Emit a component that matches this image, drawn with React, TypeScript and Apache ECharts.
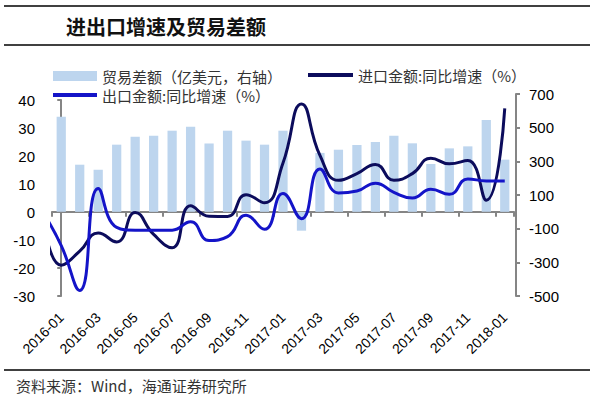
import React, { useEffect, useRef } from "react";
import * as echarts from "echarts";

const categories = [
  "2016-01", "2016-02", "2016-03", "2016-04", "2016-05", "2016-06",
  "2016-07", "2016-08", "2016-09", "2016-10", "2016-11", "2016-12",
  "2017-01", "2017-02", "2017-03", "2017-04", "2017-05", "2017-06",
  "2017-07", "2017-08", "2017-09", "2017-10", "2017-11", "2017-12",
  "2018-01",
];

// line data starts one month earlier (2015-12); that point is clipped by the plot edge
const lineMonths = ["2015-12", ...categories];

const tradeBalance = [
  565, 280, 250, 399, 446, 452, 482, 506, 406, 482, 423, 399,
  482, -112, 350, 369, 397, 415, 452, 407, 284, 377, 389, 545,
  310,
];

const importYoY = [
  -1,
  -19, -14, -7.5, -10.7, -0.2, -8, -12.8, 2.2, -1.5, -1.6, 6.2, 3.3,
  17.5, 38.6, 20.2, 11.3, 13.7, 17.0, 11.3, 13.7, 19.2, 17.2, 18.4, 4.2,
  37.0,
];

const exportYoY = [
  0,
  -12, -28, 8.4, -5.5, -6.5, -6.5, -6.5, -3.5, -10.2, -8.8, -1.2, -6.2,
  6.6, -2.4, 15.4, 6.8, 7.5, 10.3, 7.0, 5.0, 8.1, 6.3, 11.8, 11.1,
  11.1,
];

const leftAxis = { min: -30, max: 40, interval: 10 };
const rightAxis = { min: -500, max: 700, interval: 200 };

const NAME_BAR = "贸易差额（亿美元，右轴）";
const NAME_IMPORT = "进口金额:同比增速（%）";
const NAME_EXPORT = "出口金额:同比增速（%）";

const latin = "'Liberation Sans', Arial, sans-serif";
const cjk = "'Noto Sans CJK SC', sans-serif";
const axisGray = "#858585";
const navy = "#0c0c5c";
const blue = "#1414c8";
const barColor = "#bdd5ee";

export default function App() {
  const ref = useRef<HTMLDivElement>(null);

  useEffect(() => {
    if (!ref.current) return;
    const chart = echarts.init(ref.current, null, { renderer: "svg" });
    const legendText = { fontFamily: cjk, fontSize: 15, color: "#333", lineHeight: 16 };
    const axisLineStyle = { color: axisGray, width: 2 };

    chart.setOption({
      animation: false,
      backgroundColor: "#ffffff",
      title: {
        text: "进出口增速及贸易差额",
        left: 66,
        top: 16,
        padding: 0,
        textStyle: { fontFamily: cjk, fontSize: 20, fontWeight: "bold", color: "#111" },
      },
      graphic: [
        { type: "line", shape: { x1: 4, y1: 6, x2: 590, y2: 6 }, style: { stroke: "#000", lineWidth: 1.5 } },
        { type: "line", shape: { x1: 4, y1: 45, x2: 590, y2: 45 }, style: { stroke: "#000", lineWidth: 1.5 } },
        { type: "line", shape: { x1: 4, y1: 370, x2: 590, y2: 370 }, style: { stroke: "#000", lineWidth: 1.5 } },
        {
          type: "text",
          x: 16,
          y: 385,
          style: {
            text: "资料来源：Wind，海通证券研究所",
            fontFamily: cjk,
            fontSize: 15,
            fill: "#333",
            verticalAlign: "middle",
          },
        },
      ],
      legend: [
        {
          data: [NAME_BAR], left: 53, top: 68, icon: "rect",
          itemWidth: 44, itemHeight: 10, selectedMode: false, padding: 0,
          textStyle: legendText,
        },
        {
          data: [NAME_IMPORT], left: 308, top: 67, icon: "rect",
          itemWidth: 45, itemHeight: 4, selectedMode: false, padding: 0,
          textStyle: legendText,
        },
        {
          data: [NAME_EXPORT], left: 53, top: 87, icon: "rect",
          itemWidth: 44, itemHeight: 4, selectedMode: false, padding: 0,
          textStyle: legendText,
        },
      ],
      grid: [
        { left: 52, right: 76, top: 100, bottom: 100 },
        { left: 52, right: 76, top: 94, bottom: 100 },
      ],
      xAxis: [
        {
          type: "category",
          gridIndex: 0,
          data: categories,
          position: "bottom",
          axisLine: { show: false, onZero: false },
          axisTick: { show: false },
          splitLine: { show: false },
          axisLabel: {
            interval: 1, rotate: 45, margin: 19,
            fontSize: 14, color: "#000", fontFamily: latin,
          },
        },
        {
          type: "value",
          gridIndex: 0,
          position: "top",
          min: -0.5,
          max: lineMonths.length - 1.5,
          show: false,
        },
        {
          type: "category",
          gridIndex: 1,
          data: categories,
          axisLine: { show: true, onZero: true, lineStyle: axisLineStyle },
          axisTick: { show: true, interval: 1, length: 5, lineStyle: axisLineStyle },
          axisLabel: { show: false },
          splitLine: { show: false },
        },
      ],
      yAxis: [
        {
          type: "value",
          gridIndex: 0,
          position: "left",
          ...leftAxis,
          axisLine: { show: true, lineStyle: axisLineStyle },
          axisTick: { show: true, length: 4, lineStyle: axisLineStyle },
          splitLine: { show: false },
          axisLabel: { margin: 17, fontSize: 15, color: "#000", fontFamily: latin },
        },
        {
          type: "value",
          gridIndex: 1,
          position: "right",
          offset: 2,
          ...rightAxis,
          axisLine: { show: true, lineStyle: axisLineStyle },
          axisTick: { show: true, length: 4, lineStyle: axisLineStyle },
          splitLine: { show: false },
          axisLabel: { margin: 13, fontSize: 15, color: "#000", fontFamily: latin },
        },
      ],
      series: [
        {
          name: NAME_BAR,
          type: "bar",
          xAxisIndex: 2,
          yAxisIndex: 1,
          data: tradeBalance,
          barWidth: "50%",
          itemStyle: { color: barColor },
          z: 1,
        },
        {
          name: NAME_IMPORT,
          type: "line",
          xAxisIndex: 1,
          yAxisIndex: 0,
          data: importYoY.map((v, i) => [i - 1, v]),
          smooth: true,
          symbol: "none",
          clip: true,
          lineStyle: { color: navy, width: 3 },
          itemStyle: { color: navy },
          z: 3,
        },
        {
          name: NAME_EXPORT,
          type: "line",
          xAxisIndex: 1,
          yAxisIndex: 0,
          data: exportYoY.map((v, i) => [i - 1, v]),
          smooth: true,
          symbol: "none",
          clip: true,
          lineStyle: { color: blue, width: 3 },
          itemStyle: { color: blue },
          z: 4,
        },
      ],
    });

    return () => chart.dispose();
  }, []);

  return (
    <div
      ref={ref}
      style={{ position: "absolute", left: 0, top: 0, width: 590, height: 396, background: "#fff" }}
    />
  );
}
